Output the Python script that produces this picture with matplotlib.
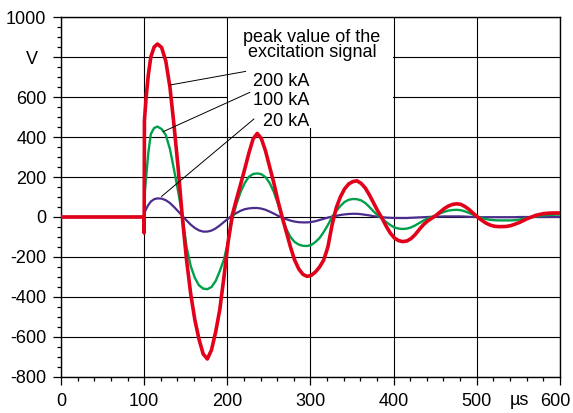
import matplotlib

matplotlib.use("Agg")
import matplotlib.pyplot as plt
from matplotlib.patches import Rectangle
from matplotlib.ticker import MultipleLocator
from matplotlib.transforms import ScaledTranslation

# sample times in microseconds
t_us = [
    0, 99.6, 100, 100.3, 102.4, 105, 108, 112,
    116, 121, 126, 131, 136, 141, 146, 151, 156, 161,
    166, 171, 176, 181, 186, 191, 196, 201, 206, 211,
    216, 221, 226, 231, 236, 241, 246, 251, 256, 261,
    266, 271, 276, 281, 286, 291, 296, 301, 306, 311,
    316, 321, 326, 331, 336, 341, 346, 351, 356, 361,
    366, 371, 376, 381, 386, 391, 396, 401, 406, 411,
    416, 421, 426, 431, 436, 441, 446, 451, 456, 461,
    466, 471, 476, 481, 486, 491, 496, 501, 506, 511,
    516, 521, 526, 531, 536, 541, 546, 551, 556, 561,
    566, 571, 576, 581, 586, 591, 596, 600,
]

# voltage in V, 200 kA excitation
v_200ka = [
    0, 0, -80, 480, 600, 710, 800, 850,
    865, 848, 780, 650, 455, 240, -5, -215, -385, -515,
    -612, -685, -710, -665, -575, -462, -300, -125, 10, 88,
    163, 240, 320, 390, 418, 392, 330, 250, 170, 80,
    0, -75, -150, -215, -260, -287, -297, -292, -275, -250,
    -215, -150, -40, 45, 100, 140, 165, 177, 181, 168,
    145, 110, 70, 30, -5, -45, -80, -105, -118, -123,
    -120, -108, -88, -62, -38, -20, -6, 8, 25, 42,
    55, 63, 66, 63, 52, 37, 18, 0, -16, -30,
    -40, -46, -48, -48, -47, -43, -36, -28, -18, -8,
    0, 8, 13, 17, 19, 20, 20, 20,
]

# voltage in V, 100 kA excitation
v_100ka = [
    0, 0, 0, 100, 200, 320, 415, 445,
    452, 440, 410, 340, 235, 125, 5, -150, -245, -305,
    -342, -358, -361, -350, -320, -270, -212, -122, -12, 65,
    125, 170, 201, 215, 218, 214, 199, 170, 125, 65,
    -5, -60, -100, -125, -138, -144, -145, -140, -125, -105,
    -75, -40, 0, 30, 55, 75, 86, 90, 89, 83,
    70, 50, 28, 8, -8, -25, -40, -52, -58, -60,
    -58, -52, -42, -30, -18, -7, 0, 8, 18, 26,
    32, 35, 36, 34, 28, 20, 11, 2, -5, -10,
    -14, -16, -17, -17, -17, -17, -16, -13, -9, -5,
    -1, 3, 6, 8, 10, 11, 12, 12,
]

# voltage in V, 20 kA excitation
v_20ka = [
    0, 0, 0, 20, 40, 60, 77, 89,
    93, 92, 84, 70, 50, 28, 5, -17, -38, -55,
    -67, -73, -73, -68, -57, -42, -25, -8, 7, 20,
    31, 39, 43, 45, 45, 42, 36, 27, 17, 6,
    -3, -11, -18, -23, -26, -27, -27, -25, -21, -15,
    -9, -3, 2, 6, 10, 13, 15, 16, 16, 14,
    11, 8, 4, 1, -1, -3, -4, -5, -5, -5,
    -5, -4, -3, -2, -1, 0, 1, 2, 2, 3,
    3, 3, 3, 3, 2, 1, 0, 0, -1, -1,
    -1, -1, -1, -1, -1, -1, -1, 0, 0, 0,
    0, 0, 0, 0, 0, 0, 0, 0,
]

y_ticks = [-800, -600, -400, -200, 0, 200, 400, 600, 800, 1000]
y_labels = ["-800", "-600", "-400", "-200", "0", "200", "400", "600", "", "1000"]
x_ticks = [0, 100, 200, 300, 400, 500, 600]

RED = "#e2001a"
GREEN = "#00a04b"
BLUE = "#4b2c8c"

plt.rcParams.update({
    "font.family": ["Liberation Sans", "DejaVu Sans"],
    "font.size": 13,
})

fig = plt.figure(figsize=(5.73, 4.13), dpi=100)
ax = fig.add_axes([0.1065, 0.0872, 0.8705, 0.8716])
ax.set_xlim(0, 600)
ax.set_ylim(-800, 1000)

ax.set_xticks(x_ticks)
ax.set_yticks(y_ticks)
ax.set_yticklabels(y_labels)
ax.xaxis.set_minor_locator(MultipleLocator(20))
ax.yaxis.set_minor_locator(MultipleLocator(50))
ax.tick_params(which="both", direction="out", top=False, right=False, width=0.9, color="black")
ax.tick_params(which="major", length=5.5, pad=5)
ax.tick_params(axis="x", which="major", pad=6)
ax.tick_params(which="minor", length=3)
for spine in ax.spines.values():
    spine.set_linewidth(1.0)

# last x label sits right at the figure edge; nudge it inward a little
last = ax.get_xticklabels()[-1]
last.set_transform(last.get_transform() + ScaledTranslation(-3 / 72, 0, fig.dpi_scale_trans))

ax.set_axisbelow(True)
ax.grid(True, which="major", color="black", linewidth=0.8)

# white field behind the annotation text hides the grid there
ax.add_patch(Rectangle((201, 445), 198, 560, facecolor="white", edgecolor="none", zorder=1))

ax.plot(t_us, v_20ka, color=BLUE, linewidth=1.6, zorder=3)
ax.plot(t_us, v_100ka, color=GREEN, linewidth=1.7, zorder=4)
ax.plot(t_us, v_200ka, color=RED, linewidth=2.6, zorder=5)

# leader lines from curves to labels
ax.plot([131, 222], [660, 728], color="black", linewidth=0.7, zorder=6)
ax.plot([123, 227], [427, 623], color="black", linewidth=0.7, zorder=6)
ax.plot([121, 232], [103, 490], color="black", linewidth=0.7, zorder=6)

ax.text(302, 877, "peak value of the", ha="center", va="baseline", zorder=7)
ax.text(302, 798, "excitation signal", ha="center", va="baseline", zorder=7)
ax.text(299, 657, "200 kA", ha="right", va="baseline", zorder=7)
ax.text(299, 561, "100 kA", ha="right", va="baseline", zorder=7)
ax.text(299, 456, "20 kA", ha="right", va="baseline", zorder=7)

# unit labels in place of tick labels
ax.annotate("V", xy=(0, 800), xycoords=("axes fraction", "data"),
            xytext=(-21, -2), textcoords="offset points", ha="center", va="center")
ax.annotate("\u00b5s", xy=(552, 0), xycoords=("data", "axes fraction"),
            xytext=(0, -11), textcoords="offset points", ha="center", va="top")

fig.savefig("out.png", dpi=100)
